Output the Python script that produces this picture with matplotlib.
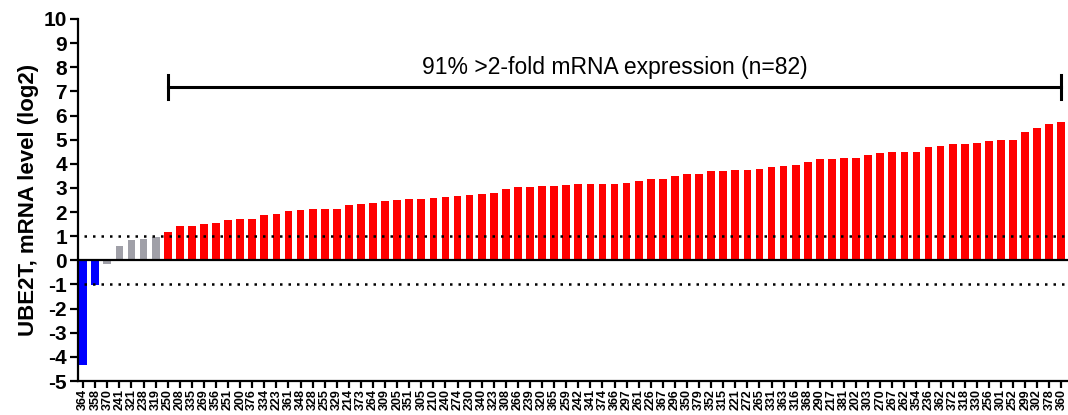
import numpy as np
import matplotlib.pyplot as plt

plt.rcParams['font.family'] = ['Liberation Sans', 'DejaVu Sans']

# tumour sample IDs, sorted by UBE2T expression
samples = ['364', '358', '370', '241', '321', '238', '319', '250', '208', '335',
           '269', '356', '251', '200', '376', '334', '223', '361', '348', '328',
           '255', '329', '214', '373', '264', '309', '205', '351', '305', '210',
           '240', '274', '230', '340', '323', '308', '266', '239', '320', '365',
           '259', '242', '341', '374', '366', '297', '261', '226', '367', '296',
           '350', '379', '352', '315', '221', '272', '265', '331', '363', '316',
           '368', '290', '217', '381', '202', '303', '270', '267', '262', '354',
           '236', '362', '372', '318', '330', '256', '301', '252', '299', '302',
           '378', '360']

# log2 fold change of UBE2T mRNA
log2_fc = [-4.32, -1.04, -0.15, 0.58, 0.86, 0.89, 0.98, 1.19, 1.41, 1.44,
           1.51, 1.55, 1.67, 1.70, 1.70, 1.89, 1.92, 2.05, 2.09, 2.14,
           2.14, 2.14, 2.31, 2.35, 2.39, 2.45, 2.48, 2.53, 2.56, 2.60,
           2.63, 2.67, 2.70, 2.74, 2.81, 2.97, 3.02, 3.03, 3.06, 3.10,
           3.14, 3.15, 3.18, 3.18, 3.18, 3.22, 3.28, 3.35, 3.39, 3.50,
           3.56, 3.56, 3.71, 3.71, 3.76, 3.76, 3.80, 3.85, 3.91, 3.97,
           4.08, 4.18, 4.20, 4.22, 4.25, 4.36, 4.45, 4.48, 4.50, 4.50,
           4.69, 4.72, 4.80, 4.80, 4.85, 4.95, 4.97, 4.97, 5.32, 5.49,
           5.66, 5.74]

threshold = 1.0  # 2-fold on log2 scale
up_first, up_last = 7, 81  # span of the over-expressed group

def bar_colour(v):
    if v >= threshold:
        return '#ff0000'
    if v <= -threshold:
        return '#0000ff'
    return '#a0a0a8'

colours = [bar_colour(v) for v in log2_fc]
x = np.arange(len(samples))

fig = plt.figure(figsize=(10.68, 4.15), dpi=100)
ax = fig.add_axes([78 / 1068, 34 / 415, 990 / 1068, 362 / 415])

ax.bar(x, log2_fc, width=0.64, color=colours, zorder=2)

# zero line and +/- 2-fold guides
ax.axhline(0, color='black', lw=1.6, zorder=3)
for yv in (threshold, -threshold):
    ax.plot([0.1, len(samples) + 1], [yv, yv], color='black', lw=1.8,
            linestyle=(0, (1, 2.4)), zorder=4)

# bracket over the up-regulated samples
by = 7.2
ax.plot([up_first, up_last], [by, by], color='black', lw=2.2, zorder=4)
for xe in (up_first, up_last):
    ax.plot([xe, xe], [by - 0.5, by + 0.5], color='black', lw=2.2, zorder=4)
n_up = sum(v >= threshold for v in log2_fc)
ax.text((up_first + up_last) / 2, 8.0,
        f'{round(100 * n_up / len(samples))}% >2-fold mRNA expression (n={len(samples)})',
        ha='center', va='center', fontsize=16.5)

ax.set_xlim(-0.43, 81.55)
ax.set_ylim(-5, 10)
ax.set_yticks(np.arange(-5, 11, 1))
ax.set_yticklabels([str(t) for t in range(-5, 11)], fontsize=15, fontweight='bold')
ax.set_xticks(x)
ax.set_xticklabels(samples, rotation=90, fontsize=9, fontweight='bold')
ax.set_ylabel('UBE2T, mRNA level (log2)', fontsize=16, fontweight='bold', labelpad=3)

for side in ('top', 'right'):
    ax.spines[side].set_visible(False)
for side in ('left', 'bottom'):
    ax.spines[side].set_linewidth(1.6)
ax.tick_params(axis='y', length=6, width=1.6, pad=2)
ax.tick_params(axis='x', length=5, width=1.6, pad=1)

fig.savefig('out.png', dpi=100)
